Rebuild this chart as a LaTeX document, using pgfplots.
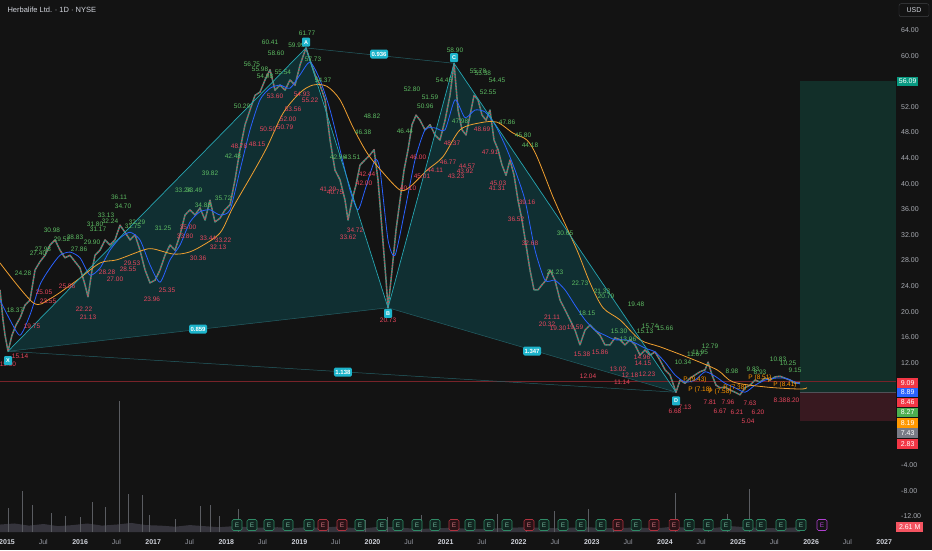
\documentclass[border=0pt]{standalone}
\usepackage{fontspec}
\setmainfont{Liberation Sans}
\usepackage{pgfplots}
\pgfplotsset{compat=1.18}
\usepackage{pgfplotstable}

\definecolor{bg}{HTML}{131313}
\definecolor{tvtext}{HTML}{D1D4DC}
\definecolor{tvdim}{HTML}{9598A1}
\definecolor{candleG}{HTML}{3A957E}
\definecolor{candleR}{HTML}{D4485D}
\definecolor{maBlue}{HTML}{2962FF}
\definecolor{maOrange}{HTML}{F0A030}
\definecolor{patLine}{HTML}{26A5B1}
\definecolor{patThin}{HTML}{245F65}
\definecolor{patFill}{HTML}{102F32}
\definecolor{patBox}{HTML}{1DB4CB}
\definecolor{hiC}{HTML}{5DBB63}
\definecolor{loC}{HTML}{E9475E}
\definecolor{tgtFill}{HTML}{122F29}
\definecolor{stopFill}{HTML}{381920}
\definecolor{tvRed}{HTML}{F23645}
\definecolor{tvBlue}{HTML}{2962FF}
\definecolor{tvGreen}{HTML}{4CAF50}
\definecolor{tvOrange}{HTML}{FF9800}
\definecolor{tvGray}{HTML}{787B86}
\definecolor{tvTeal}{HTML}{089981}
\definecolor{volC}{HTML}{35343C}
\definecolor{eGreen}{HTML}{2F8A66}
\definecolor{eGreenF}{HTML}{112520}
\definecolor{eRed}{HTML}{B0323F}
\definecolor{eRedF}{HTML}{2A1216}
\definecolor{ePurple}{HTML}{B040D0}

\newcommand{\lblfont}{\fontsize{6.5}{7}\selectfont}
\newcommand{\yr}[1]{\textcolor{tvtext}{\bfseries #1}}

% weekly-ish closes
\pgfplotstableread{
t p
2014.904 23.4
2014.945 18.7
2014.973 16.3
2015.014 13.8
2015.068 16.3
2015.123 17.9
2015.178 19.0
2015.246 21.0
2015.315 21.8
2015.383 26.5
2015.451 27.8
2015.520 28.8
2015.588 30.4
2015.657 31.2
2015.725 29.6
2015.793 28.4
2015.862 28.8
2015.930 27.8
2015.999 26.8
2016.067 24.2
2016.108 22.3
2016.163 26.5
2016.204 28.8
2016.272 29.6
2016.341 31.2
2016.409 30.4
2016.477 31.2
2016.546 33.5
2016.614 32.4
2016.683 31.2
2016.751 32.0
2016.819 29.6
2016.888 26.5
2016.956 24.5
2017.025 24.9
2017.093 26.5
2017.161 28.8
2017.230 30.4
2017.298 29.6
2017.367 32.0
2017.435 35.1
2017.503 35.9
2017.572 35.1
2017.640 36.2
2017.709 34.3
2017.777 37.4
2017.845 34.0
2017.914 34.6
2017.982 35.9
2018.051 36.7
2018.119 40.6
2018.187 45.3
2018.256 49.2
2018.324 51.5
2018.393 53.8
2018.461 54.3
2018.529 56.2
2018.598 57.8
2018.666 54.6
2018.735 55.4
2018.803 54.6
2018.871 56.2
2018.940 55.4
2019.008 58.5
2019.090 61.2
2019.145 59.3
2019.213 57.0
2019.282 55.4
2019.350 53.1
2019.419 46.8
2019.487 42.1
2019.555 40.6
2019.624 37.4
2019.665 34.3
2019.720 37.4
2019.774 39.8
2019.829 42.9
2019.897 43.7
2019.966 44.5
2020.021 45.3
2020.075 40.6
2020.130 32.8
2020.185 24.9
2020.212 20.6
2020.267 26.5
2020.322 32.8
2020.376 37.4
2020.431 42.1
2020.486 45.3
2020.540 49.2
2020.595 50.7
2020.650 49.9
2020.718 48.4
2020.787 49.2
2020.855 47.6
2020.923 46.8
2020.992 49.9
2021.060 53.8
2021.115 58.8
2021.170 51.5
2021.224 48.4
2021.279 47.6
2021.334 50.7
2021.389 53.8
2021.443 53.1
2021.498 50.7
2021.553 49.9
2021.607 51.5
2021.662 46.8
2021.717 45.3
2021.771 42.9
2021.826 41.3
2021.881 43.7
2021.936 41.3
2021.990 37.4
2022.045 34.3
2022.100 30.4
2022.154 26.5
2022.209 23.4
2022.264 23.4
2022.319 24.2
2022.373 24.9
2022.428 26.5
2022.496 24.9
2022.565 21.8
2022.633 20.3
2022.702 18.7
2022.770 17.1
2022.838 14.8
2022.907 17.1
2022.975 17.9
2023.044 17.1
2023.112 16.3
2023.180 14.8
2023.249 14.8
2023.317 15.9
2023.386 15.6
2023.454 14.8
2023.522 15.6
2023.591 14.8
2023.659 13.2
2023.728 14.0
2023.796 13.2
2023.864 13.7
2023.933 12.4
2024.001 10.9
2024.070 10.1
2024.152 7.4
2024.207 9.3
2024.275 8.8
2024.343 9.6
2024.412 10.1
2024.480 10.6
2024.549 10.9
2024.590 12.1
2024.644 10.1
2024.699 8.5
2024.754 8.1
2024.822 8.2
2024.891 7.75
2024.959 7.4
2025.027 7.0
2025.096 8.1
2025.164 8.5
2025.233 9.3
2025.301 9.0
2025.369 9.6
2025.438 9.3
2025.506 9.8
2025.575 9.9
2025.643 9.6
2025.711 9.3
2025.780 8.8
2025.848 8.9
}\priceTab

% fast moving average (blue)
\pgfplotstableread{
t p
2014.904 21.8
2015.041 18.7
2015.178 16.3
2015.315 19.5
2015.451 24.2
2015.588 26.8
2015.725 28.8
2015.862 29.3
2015.999 28.4
2016.135 25.7
2016.272 26.8
2016.409 29.6
2016.546 31.5
2016.683 32.4
2016.819 31.2
2016.956 27.3
2017.093 24.6
2017.230 28.1
2017.367 30.4
2017.503 34.0
2017.640 35.6
2017.777 35.9
2017.914 35.1
2018.051 35.9
2018.187 42.1
2018.324 48.4
2018.461 53.1
2018.598 54.9
2018.735 55.4
2018.871 54.9
2019.008 57.0
2019.145 59.0
2019.282 56.2
2019.419 51.5
2019.555 45.3
2019.692 39.0
2019.801 35.9
2019.897 39.0
2020.034 43.7
2020.103 42.1
2020.212 31.2
2020.308 28.8
2020.444 35.9
2020.581 43.7
2020.718 48.4
2020.855 48.7
2020.992 48.4
2021.129 53.1
2021.265 50.3
2021.402 51.5
2021.539 51.2
2021.676 49.2
2021.813 46.0
2021.950 42.1
2022.086 37.4
2022.223 29.6
2022.360 24.9
2022.496 24.9
2022.633 23.4
2022.770 21.0
2022.907 18.7
2023.044 17.1
2023.180 16.3
2023.317 15.6
2023.454 15.6
2023.591 15.1
2023.728 14.3
2023.864 13.7
2024.001 12.1
2024.138 10.1
2024.275 9.0
2024.412 9.3
2024.549 10.6
2024.686 9.9
2024.822 8.8
2024.959 8.1
2025.096 7.4
2025.233 8.5
2025.369 9.3
2025.506 9.6
2025.643 9.6
2025.780 9.0
2025.848 8.7
}\maFast

% slow moving average (orange)
\pgfplotstableread{
t p
2014.904 27.6
2015.356 21.4
2015.588 22.0
2015.958 24.9
2016.272 27.6
2016.505 28.1
2016.860 29.6
2016.997 29.8
2017.271 29.0
2017.462 29.2
2017.640 30.1
2017.914 32.3
2018.092 36.3
2018.365 41.7
2018.557 45.7
2018.776 51.0
2019.008 54.2
2019.186 55.4
2019.377 55.2
2019.555 53.1
2019.733 48.8
2019.925 44.8
2020.144 41.7
2020.376 39.0
2020.513 39.5
2020.746 42.1
2020.964 44.2
2021.197 48.4
2021.471 49.5
2021.703 49.6
2021.922 47.9
2022.113 46.8
2022.250 44.2
2022.469 37.9
2022.565 35.4
2022.797 29.6
2022.975 24.5
2023.153 20.6
2023.386 18.7
2023.659 15.6
2023.933 14.5
2024.302 12.9
2024.713 10.9
2024.932 9.0
2025.397 8.2
2025.848 7.9
2025.944 8.1
}\maSlow

% swing-high labels
\pgfplotstableread{
t p lab
2015.615 32.75 30.98
2015.492 29.78 27.93
2015.424 29.16 27.40
2015.219 26.03 24.28
2015.109 20.25 18.37
2015.752 31.34 29.52
2015.930 31.66 28.83
2015.985 29.78 27.86
2016.163 30.88 29.90
2016.204 33.69 31.80
2016.245 32.91 31.17
2016.354 35.09 33.13
2016.409 34.16 32.24
2016.532 37.91 36.11
2016.587 36.50 34.70
2016.778 34.00 32.29
2016.723 33.38 31.75
2017.134 33.06 31.25
2017.410 39.00 33.24
2017.560 39.00 33.49
2017.681 36.66 34.88
2017.955 37.75 35.72
2017.777 41.66 39.82
2018.091 44.31 42.48
2018.215 52.13 50.29
2018.351 58.69 56.75
2018.461 57.91 55.98
2018.529 56.81 54.98
2018.598 62.13 60.41
2018.680 60.41 58.60
2018.775 57.44 55.54
2018.960 61.66 59.99
2019.104 63.53 61.77
2019.186 59.47 57.73
2019.323 56.19 54.37
2019.993 50.56 48.82
2019.870 48.06 46.38
2019.528 44.16 42.96
2019.720 44.16 43.51
2020.444 48.22 46.44
2020.540 54.78 52.80
2020.786 53.53 51.59
2020.722 52.13 50.96
2020.978 56.19 54.45
2021.128 60.88 58.90
2021.443 57.59 55.78
2021.510 57.28 55.38
2021.703 56.19 54.45
2021.580 54.31 52.55
2021.840 49.63 47.86
2022.059 47.59 45.80
2022.154 46.03 44.18
2021.197 49.78 47.98
2022.633 32.28 30.65
2022.496 26.19 24.23
2022.838 24.47 22.73
2023.139 23.22 21.33
2023.194 22.44 20.79
2022.934 19.78 18.15
2023.604 21.19 19.48
2023.796 17.75 15.74
2024.001 17.44 15.66
2023.728 16.97 15.13
2023.372 16.97 15.30
2023.495 15.72 13.96
2024.617 14.63 12.79
2024.480 13.69 11.95
2024.412 13.38 11.67
2024.247 12.13 10.34
2024.918 10.72 8.98
2025.205 11.03 9.83
2025.301 10.56 8.93
2025.547 12.59 10.83
2025.684 11.97 10.25
2025.780 10.88 9.15
}\hiTab

% swing-low labels
\pgfplotstableread{
t p lab
2015.013 11.81 15.00
2015.178 13.06 15.14
2015.342 17.75 19.75
2015.506 23.06 25.05
2015.561 21.66 23.55
2015.821 24.00 25.86
2016.053 20.41 22.22
2016.108 19.16 21.13
2016.368 26.19 28.28
2016.477 25.09 27.00
2016.655 26.66 28.55
2016.710 27.59 29.53
2016.983 21.97 23.96
2017.189 23.38 25.35
2017.476 33.22 35.00
2017.435 31.81 33.80
2017.749 31.50 33.44
2017.955 31.19 33.22
2017.886 30.09 32.13
2017.613 28.38 30.36
2018.174 45.88 48.78
2018.420 46.19 48.15
2018.570 48.53 50.50
2018.803 48.84 50.79
2018.844 50.09 52.00
2018.912 51.66 53.56
2018.666 53.69 53.60
2019.035 54.00 54.93
2019.145 53.06 55.22
2019.391 39.16 41.29
2019.487 38.69 40.75
2019.925 41.50 42.44
2019.884 40.09 42.00
2019.761 32.75 34.72
2019.665 31.66 33.62
2020.212 18.69 20.73
2020.486 39.31 40.10
2020.622 44.16 46.00
2020.677 41.19 45.01
2020.855 42.13 44.11
2021.033 43.38 46.77
2021.087 46.34 48.37
2021.142 41.19 43.23
2021.293 42.75 44.57
2021.265 41.97 43.92
2021.498 48.53 48.69
2021.607 44.94 47.91
2021.717 40.09 45.03
2021.703 39.31 41.31
2022.113 37.13 39.16
2021.963 34.47 36.52
2022.154 30.72 32.68
2022.455 19.16 21.11
2022.387 18.06 20.32
2022.537 17.44 19.30
2022.770 17.59 19.59
2022.866 13.38 15.38
2023.112 13.69 15.86
2023.687 12.91 14.96
2023.700 11.97 14.15
2023.358 11.03 13.02
2023.522 10.09 12.18
2023.755 10.25 12.23
2022.948 9.94 12.04
2023.413 9.00 11.14
2024.138 4.47 6.68
2024.275 5.09 7.13
2024.617 5.88 7.81
2024.754 4.47 6.67
2024.863 5.88 7.96
2024.986 4.31 6.21
2025.137 2.91 5.04
2025.164 5.72 7.63
2025.273 4.31 6.20
2025.574 6.19 8.38
2025.752 6.19 8.20
}\loTab

% pivot labels
\pgfplotstableread{
t p lab
2024.412 9.31 {P (9.43)}
2024.480 7.75 {P (7.18)}
2024.754 7.44 {P (7.58)}
2024.959 8.06 {P (7.38)}
2025.301 9.63 {P (8.51)}
2025.438 9.31 {P}
2025.643 8.53 {P (8.41)}
}\pivTab

% volume (millions, arbitrary scale of the pane)
\pgfplotstableread{
t v
2014.904 1.4
2015.100 1.6
2015.300 1.2
2015.500 1.5
2015.700 1.1
2015.900 1.3
2016.100 1.6
2016.300 1.2
2016.500 1.4
2016.700 1.7
2016.900 1.3
2017.100 1.2
2017.300 1.0
2017.500 1.3
2017.700 1.1
2017.900 0.9
2018.100 1.1
2018.300 0.9
2018.500 0.8
2018.700 0.9
2018.900 0.7
2019.100 0.9
2019.300 0.8
2019.500 1.0
2019.700 0.8
2019.900 0.7
2020.100 1.0
2020.300 0.9
2020.500 0.7
2020.700 0.6
2020.900 0.7
2021.100 0.8
2021.300 0.6
2021.500 0.6
2021.700 0.7
2021.900 0.8
2022.100 0.9
2022.300 0.8
2022.500 0.7
2022.700 0.8
2022.900 0.9
2023.100 0.8
2023.300 0.7
2023.500 0.8
2023.700 0.8
2023.900 0.7
2024.100 1.0
2024.300 0.8
2024.500 0.7
2024.700 0.8
2024.900 1.1
2025.100 0.9
2025.300 0.8
2025.500 0.7
2025.700 0.8
2025.850 0.9
}\volBase

\pgfplotstableread{
t v
2015.013 4.5
2015.205 7.7
2015.342 5.1
2015.600 3.5
2015.800 3.0
2016.000 2.8
2016.163 5.6
2016.341 4.7
2016.532 24.6
2016.655 7.1
2016.847 7.0
2016.950 3.2
2017.300 2.5
2017.640 4.9
2017.777 5.1
2017.900 3.0
2018.160 4.3
2019.400 2.0
2019.900 2.2
2020.200 2.8
2020.663 3.2
2021.703 3.4
2022.100 2.4
2022.482 3.9
2022.948 4.3
2023.300 2.2
2024.138 7.3
2024.600 2.0
2024.850 3.4
2025.150 8.1
}\volSpike

% earnings flags
\pgfplotstableread{
t p
2018.146 -13.34
2018.351 -13.34
2018.584 -13.34
2018.844 -13.34
2019.131 -13.34
2019.829 -13.34
2020.130 -13.34
2020.349 -13.34
2020.609 -13.34
2020.855 -13.34
2021.334 -13.34
2021.594 -13.34
2021.840 -13.34
2022.346 -13.34
2022.606 -13.34
2022.852 -13.34
2023.126 -13.34
2023.605 -13.34
2024.330 -13.34
2024.590 -13.34
2024.836 -13.34
2025.137 -13.34
2025.315 -13.34
2025.588 -13.34
2025.862 -13.34
}\eGood

\pgfplotstableread{
t p
2019.323 -13.34
2019.583 -13.34
2021.115 -13.34
2022.141 -13.34
2023.358 -13.34
2023.851 -13.34
2024.125 -13.34
}\eBad

\pgfplotsset{
  tvbase/.style={
    scale only axis, width=896pt, height=532pt,
    xmin=2014.904, xmax=2027.161,
    axis line style={draw=none},
    major tick length=0pt,
    clip mode=individual,
  },
}

\begin{document}
\begin{tikzpicture}
\useasboundingbox (0,-18pt) rectangle (932pt,532pt);
\fill[bg] (0,-18pt) rectangle (932pt,532pt);
\clip (0,-18pt) rectangle (932pt,532pt);

% volume pane
\begin{axis}[tvbase, ymin=0, ymax=100, xtick=\empty, ytick=\empty]
\addplot[fill=volC, draw=none] table[x=t, y=v] \volBase \closedcycle;
\addplot[ycomb, draw=tvdim!55!bg, line width=0.7pt] table[x=t, y=v] \volSpike;
\end{axis}

% price pane
\begin{axis}[tvbase,
  ymin=-14.44, ymax=68.69,
  yticklabel pos=right,
  ytick={-12,-8,-4,12,16,20,24,28,32,36,40,44,48,52,60,64},
  yticklabel={\pgfmathprintnumber[fixed,fixed zerofill,precision=2]{\tick}},
  every y tick label/.append style={anchor=west, inner sep=0pt, xshift=5pt,
    font=\fontsize{7}{8}\selectfont, text=tvdim!80!white},
  /pgf/number format/assume math mode=true,
  xtick={2015,2015.496,2016,2016.496,2017,2017.496,2018,2018.496,2019,2019.496,
         2020,2020.496,2021,2021.496,2022,2022.496,2023,2023.496,2024,2024.496,
         2025,2025.496,2026,2026.496,2027},
  xticklabels={\yr{2015},Jul,\yr{2016},Jul,\yr{2017},Jul,\yr{2018},Jul,\yr{2019},Jul,
               \yr{2020},Jul,\yr{2021},Jul,\yr{2022},Jul,\yr{2023},Jul,\yr{2024},Jul,
               \yr{2025},Jul,\yr{2026},Jul,\yr{2027}},
  every x tick label/.append style={anchor=center, inner sep=0pt, yshift=-10pt,
    font=\fontsize{7}{8}\selectfont, text=tvdim},
]

% long position box
\addplot[fill=tgtFill, draw=none] coordinates {(2025.848,7.43) (2027.161,7.43) (2027.161,56.09) (2025.848,56.09)};
\addplot[fill=stopFill, draw=none] coordinates {(2025.848,2.83) (2027.161,2.83) (2027.161,7.43) (2025.848,7.43)};
\addplot[draw=tvGray!60!bg, line width=0.5pt] coordinates {(2025.848,7.43) (2027.161,7.43)};

% harmonic pattern fills
\addplot[fill=patFill, draw=none] coordinates {(2015.014,13.8) (2019.090,61.2) (2020.212,20.6)};
\addplot[fill=patFill, draw=none] coordinates {(2020.212,20.6) (2021.115,58.8) (2024.152,7.4)};

% last price line
\addplot[draw=tvRed!45!bg, line width=0.6pt] coordinates {(2014.904,9.09) (2027.161,9.09)};

% pattern legs and ratio lines
\addplot[draw=patThin, line width=0.5pt] coordinates {(2015.014,13.8) (2020.212,20.6) (2024.152,7.4)};
\addplot[draw=patThin, line width=0.5pt] coordinates {(2019.090,61.2) (2021.115,58.8)};
\addplot[draw=patThin, line width=0.5pt] coordinates {(2015.014,13.8) (2024.152,7.4)};

% price
\addplot[draw=candleG, line width=1.5pt, line join=round] table[x=t, y=p] \priceTab;
\addplot[draw=candleR, line width=1.1pt, dash pattern=on 1.2pt off 1.8pt, line join=round] table[x=t, y=p] \priceTab;

% moving averages
\addplot[draw=maBlue, line width=0.8pt, smooth, tension=0.4] table[x=t, y=p] \maFast;
\addplot[draw=maOrange, line width=0.8pt, smooth, tension=0.5] table[x=t, y=p] \maSlow;

\addplot[draw=patLine, line width=0.7pt] coordinates {(2015.014,13.8) (2019.090,61.2) (2020.212,20.6) (2021.115,58.8) (2024.152,7.4)};

% swing labels
\addplot[only marks, mark=*, mark size=0pt, mark options={draw=none, fill=none},
  point meta=explicit symbolic, nodes near coords,
  every node near coord/.append style={anchor=center, inner sep=0pt, font=\lblfont, text=hiC}]
  table[x=t, y=p, meta=lab] \hiTab;
\addplot[only marks, mark=*, mark size=0pt, mark options={draw=none, fill=none},
  point meta=explicit symbolic, nodes near coords,
  every node near coord/.append style={anchor=center, inner sep=0pt, font=\lblfont, text=loC}]
  table[x=t, y=p, meta=lab] \loTab;
\addplot[only marks, mark=*, mark size=0pt, mark options={draw=none, fill=none},
  point meta=explicit symbolic, nodes near coords,
  every node near coord/.append style={anchor=center, inner sep=0pt, font=\lblfont, text=tvOrange}]
  table[x=t, y=p, meta=lab] \pivTab;

% earnings flags
\addplot[only marks, mark=*, mark size=0pt, mark options={draw=none, fill=none},
  nodes near coords={E},
  every node near coord/.append style={anchor=center, draw=eGreen, fill=eGreenF, text=eGreen!70!white,
    rounded corners=1.5pt, minimum width=10pt, minimum height=11pt, inner sep=0pt, line width=0.6pt,
    font=\fontsize{6.5}{7}\selectfont}]
  table[x=t, y=p] \eGood;
\addplot[only marks, mark=*, mark size=0pt, mark options={draw=none, fill=none},
  nodes near coords={E},
  every node near coord/.append style={anchor=center, draw=eRed, fill=eRedF, text=eRed!70!white,
    rounded corners=1.5pt, minimum width=10pt, minimum height=11pt, inner sep=0pt, line width=0.6pt,
    font=\fontsize{6.5}{7}\selectfont}]
  table[x=t, y=p] \eBad;
\addplot[only marks, mark=*, mark size=0pt, mark options={draw=none, fill=none},
  nodes near coords={E},
  every node near coord/.append style={anchor=center, draw=ePurple, fill=bg, text=ePurple,
    rounded corners=1.5pt, minimum width=10pt, minimum height=11pt, inner sep=0pt, line width=0.6pt,
    font=\fontsize{6.5}{7}\selectfont}]
  coordinates {(2026.149,-13.34)};

% pattern point tags
\tikzset{ptag/.style={fill=patBox, text=white, rounded corners=1pt, inner sep=0pt,
  minimum width=8pt, minimum height=9pt, font=\fontsize{5.5}{6}\selectfont\bfseries},
  rtag/.style={fill=patBox, text=white, rounded corners=1.5pt, inner sep=1.5pt,
  minimum height=9pt, font=\fontsize{6}{6}\selectfont\bfseries}}
\node[ptag, anchor=south] at (axis cs:2015.014,13.8) [yshift=-14pt] {X};
\node[ptag, anchor=south] at (axis cs:2019.090,61.2) [yshift=1pt] {A};
\node[ptag, anchor=north] at (axis cs:2020.212,20.6) [yshift=-1pt] {B};
\node[ptag, anchor=south] at (axis cs:2021.115,58.8) [yshift=1pt] {C};
\node[ptag, anchor=north] at (axis cs:2024.152,7.4) [yshift=-4pt] {D};
\node[rtag] at (axis cs:2020.089,60.25) {0.936};
\node[rtag] at (axis cs:2017.613,17.28) {0.859};
\node[rtag] at (axis cs:2022.182,13.84) {1.347};
\node[rtag] at (axis cs:2019.596,10.56) {1.138};

% title
\node[anchor=west, font=\fontsize{7.5}{8}\selectfont, text=tvtext] at (rel axis cs:0,1) [xshift=4pt, yshift=-10pt] {Herbalife Ltd. · 1D · NYSE};

% price scale tags
\tikzset{stag/.style={anchor=west, text=white, inner sep=0pt, minimum width=21pt,
  minimum height=9.6pt, font=\fontsize{7}{8}\selectfont}}
\node[stag, fill=tvTeal] at (axis cs:2027.161,55.95) [xshift=1pt] {56.09};
\node[stag, fill=tvRed] at (axis cs:2027.161,8.84) [xshift=1pt] {9.09};
\node[stag, fill=tvBlue] at (axis cs:2027.161,7.36) [xshift=1pt] {8.89};
\node[stag, fill=tvRed] at (axis cs:2027.161,5.80) [xshift=1pt] {8.46};
\node[stag, fill=tvGreen] at (axis cs:2027.161,4.23) [xshift=1pt] {8.27};
\node[stag, fill=tvOrange] at (axis cs:2027.161,2.59) [xshift=1pt] {8.19};
\node[stag, fill=tvGray] at (axis cs:2027.161,1.03) [xshift=1pt] {7.43};
\node[stag, fill=tvRed] at (axis cs:2027.161,-0.69) [xshift=1pt] {2.83};
\node[stag, fill=tvRed!85!white, minimum width=27pt] at (axis cs:2027.161,-13.66) [xshift=0pt] {2.61 M};
\node[font=\fontsize{7}{8}\selectfont, text=tvtext, draw=tvdim!35!bg, rounded corners=2pt,
  minimum width=30pt, minimum height=13pt, inner sep=0pt] at (axis cs:2027.161,67.1) [xshift=18pt] {USD};

\end{axis}
\end{tikzpicture}
\end{document}
